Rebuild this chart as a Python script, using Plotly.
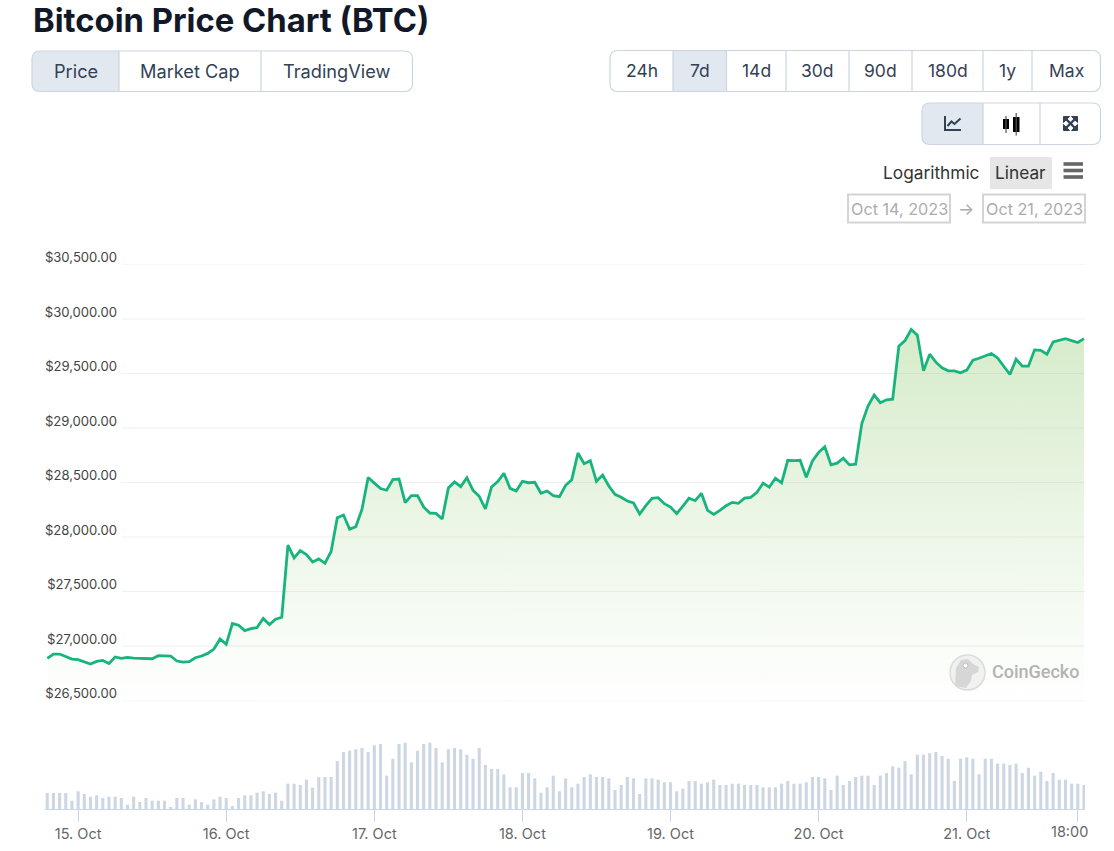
import pandas as pd
import plotly.graph_objects as go

W, H = 1114, 851
FONT = "Inter"

# hourly BTC price
prices = [
    26886, 26926, 26926, 26902, 26880, 26874, 26856, 26834, 26859, 26868, 26840, 26899, 26886, 26896, 26889,
    26889, 26886, 26883, 26911, 26908, 26908, 26862, 26852, 26856, 26892, 26908, 26932, 26972, 27065, 27015,
    27206, 27191, 27141, 27160, 27169, 27252, 27197, 27246, 27264, 27925, 27808, 27876, 27839, 27771, 27799,
    27759, 27867, 28177, 28202, 28072, 28094, 28254, 28546, 28494, 28444, 28429, 28527, 28532, 28315, 28379,
    28379, 28275, 28220, 28217, 28165, 28450, 28505, 28462, 28544, 28428, 28373, 28257, 28459, 28508, 28584,
    28446, 28422, 28511, 28498, 28502, 28401, 28422, 28379, 28370, 28474, 28526, 28771, 28673, 28700, 28511,
    28569, 28468, 28391, 28364, 28330, 28312, 28211, 28287, 28355, 28361, 28306, 28275, 28214, 28284, 28355,
    28333, 28401, 28245, 28208, 28245, 28287, 28318, 28309, 28357, 28363, 28409, 28494, 28457, 28540, 28497,
    28704, 28701, 28704, 28549, 28698, 28777, 28829, 28662, 28677, 28723, 28662, 28668, 29040, 29201, 29302,
    29232, 29259, 29265, 29750, 29802, 29903, 29851, 29524, 29677, 29604, 29552, 29524, 29524, 29506, 29531,
    29622, 29640, 29662, 29683, 29643, 29567, 29491, 29631, 29567, 29567, 29717, 29713, 29677, 29790, 29802,
    29820, 29802, 29784, 29820,
]

# volume in relative units, the chart has no volume scale
volumes = [
    48, 48, 48, 48, 25, 53, 45, 37, 41, 33, 37, 37, 33, 13, 37, 21, 33, 25, 25, 25, 6, 33, 33, 13, 29, 21, 13, 29,
    37, 33, 9, 33, 41, 41, 49, 53, 45, 49, 25, 76, 76, 72, 88, 64, 96, 96, 96, 144, 171, 175, 179, 183, 171, 191,
    195, 100, 151, 195, 199, 140, 175, 195, 199, 183, 140, 179, 183, 179, 163, 151, 183, 132, 120, 120, 104, 65,
    65, 108, 108, 92, 49, 65, 100, 53, 92, 65, 76, 96, 104, 96, 96, 92, 57, 72, 96, 92, 45, 92, 92, 88, 80, 80,
    53, 61, 84, 84, 76, 80, 88, 72, 72, 76, 76, 72, 72, 72, 65, 65, 65, 76, 84, 76, 76, 80, 96, 96, 92, 57, 100,
    72, 84, 96, 100, 100, 72, 100, 108, 128, 124, 144, 104, 163, 163, 167, 171, 159, 151, 84, 151, 155, 151, 104,
    151, 151, 136, 136, 132, 136, 108, 124, 100, 112, 84, 108, 88, 88, 76, 76, 72,
]

price_ticks = [26500, 27000, 27500, 28000, 28500, 29000, 29500, 30000, 30500]
date_ticks = ["2023-10-15", "2023-10-16", "2023-10-17", "2023-10-18", "2023-10-19", "2023-10-20", "2023-10-21",
              "2023-10-21 18:00"]
date_labels = ["15. Oct", "16. Oct", "17. Oct", "18. Oct", "19. Oct", "20. Oct", "21. Oct", ""]

tabs = ["Price", "Market Cap", "TradingView"]
ranges = ["24h", "7d", "14d", "30d", "90d", "180d", "1y", "Max"]

times = pd.date_range("2023-10-14 19:00", periods=len(prices), freq="h")


def px(x):
    return x / W


def py(y):
    return 1 - y / H


def rounded(x0, y0, x1, y1, left=0, right=0):
    # rounded box in page pixels, as a paper-coordinate svg path
    pts = [
        f"M {px(x0 + left)},{py(y0)}", f"L {px(x1 - right)},{py(y0)}",
        f"Q {px(x1)},{py(y0)} {px(x1)},{py(y0 + right)}", f"L {px(x1)},{py(y1 - right)}",
        f"Q {px(x1)},{py(y1)} {px(x1 - right)},{py(y1)}", f"L {px(x0 + left)},{py(y1)}",
        f"Q {px(x0)},{py(y1)} {px(x0)},{py(y1 - left)}", f"L {px(x0)},{py(y0 + left)}",
        f"Q {px(x0)},{py(y0)} {px(x0 + left)},{py(y0)}", "Z",
    ]
    return " ".join(pts)


def poly(points, close=False):
    d = " ".join(("M" if i == 0 else "L") + f" {px(x)},{py(y)}" for i, (x, y) in enumerate(points))
    return d + (" Z" if close else "")


shapes = []
annotations = []


def add_path(path, fill="rgba(0,0,0,0)", line="rgba(0,0,0,0)", width=1):
    shapes.append(dict(type="path", xref="paper", yref="paper", path=path, fillcolor=fill,
                       line=dict(color=line, width=width), layer="above"))


def add_rect(x0, y0, x1, y1, fill="rgba(0,0,0,0)", line="rgba(0,0,0,0)", width=1):
    shapes.append(dict(type="rect", xref="paper", yref="paper", x0=px(x0), x1=px(x1), y0=py(y0), y1=py(y1),
                       fillcolor=fill, line=dict(color=line, width=width), layer="above"))


def add_text(text, x, y, size=18, color="#334155", anchor="center", weight=400, family=FONT):
    annotations.append(dict(text=text, xref="paper", yref="paper", x=px(x), y=py(y), xanchor=anchor,
                            yanchor="middle", showarrow=False,
                            font=dict(family=family, size=size, color=color, weight=weight)))


def button_group(x0, y0, x1, y1, dividers, selected):
    edges = [x0] + dividers + [x1]
    a, b = edges[selected], edges[selected + 1]
    add_path(rounded(a, y0, b, y1, left=8 if selected == 0 else 0), fill="#e2e8f0")
    add_path(rounded(x0, y0, x1, y1, left=8, right=8), line="#cbd5e1", width=1.2)
    for d in dividers:
        add_path(poly([(d, y0), (d, y1)]), line="#cbd5e1", width=1.2)
    return edges


# page header
add_text("Bitcoin Price Chart (BTC)", 31, 20, size=32.8, color="#111827", anchor="left", weight=700)

edges = button_group(32, 51, 412.5, 91.5, [119, 261], 0)
for i, tab in enumerate(tabs):
    add_text(tab, (edges[i] + edges[i + 1]) / 2, 71, size=18.2)

edges = button_group(610, 50.5, 1100.5, 91.5, [673, 726.5, 786, 849, 912, 983, 1032], 1)
for i, r in enumerate(ranges):
    add_text(r, (edges[i] + edges[i + 1]) / 2, 71, size=17.5)

# chart type buttons and their icons
button_group(922, 103, 1100.5, 144.5, [983, 1040], 0)
add_path(poly([(945, 116), (945, 130), (961, 130)]), line="#334155", width=2)
add_path(poly([(947.5, 126), (951.5, 121.5), (954.5, 124), (960.5, 118.5)]), line="#334155", width=2)
add_rect(1003, 119, 1009, 129, fill="#000")
add_rect(1013, 117, 1019.5, 132, fill="#000")
add_path(poly([(1006, 116), (1006, 133)]), line="#555555", width=1.2)
add_path(poly([(1016.2, 113), (1016.2, 135.5)]), line="#555555", width=1.2)
for a, b, c, d in [(1065, 118, 1076, 129), (1076, 118, 1065, 129)]:
    add_path(poly([(a, b), (c, d)]), line="#334155", width=2.4)
for cx, cy, sx, sy in [(1063.5, 116.5, 1, 1), (1077.5, 116.5, -1, 1), (1063.5, 130.5, 1, -1), (1077.5, 130.5, -1, -1)]:
    add_path(poly([(cx, cy), (cx + 6 * sx, cy), (cx, cy + 6 * sy)], close=True), fill="#334155", line="#334155",
             width=1)

# scale switch and menu
add_text("Logarithmic", 931.5, 173, size=17.3, color="#333333")
add_rect(990, 157, 1052, 189, fill="#e6e6e6")
add_text("Linear", 1020.5, 173, size=17.3, color="#333333")
for y in [164, 170.5, 177]:
    add_path(poly([(1063.5, y), (1083, y)]), line="#666666", width=3.6)

# date range inputs
add_rect(848, 194.5, 950, 222.5, line="#d4d4d4", width=2)
add_rect(983, 194.5, 1085, 222.5, line="#d4d4d4", width=2)
add_text("Oct 14, 2023", 899, 209, size=16.2, color="#acacac")
add_text("Oct 21, 2023", 1034, 209, size=16.2, color="#acacac")
add_text("→", 966, 209, size=17, color="#acacac")

# watermark
shapes.append(dict(type="circle", xref="paper", yref="paper", x0=px(950), x1=px(985), y0=py(690), y1=py(655),
                   fillcolor="#f1f1f1", line=dict(color="#dcdcdc", width=1.5), layer="above"))
add_path(poly([(955, 686), (956, 668), (961, 660), (968, 659), (973, 664), (979, 667), (978, 672), (972, 675),
               (971, 681), (966, 688)], close=True), fill="#d6d6d6")
shapes.append(dict(type="circle", xref="paper", yref="paper", x0=px(963), x1=px(968), y0=py(668), y1=py(663),
                   fillcolor="#ffffff", line=dict(color="#bdbdbd", width=1), layer="above"))
add_text("CoinGecko", 990, 671, size=18, color="#b3b3b3", anchor="left", weight=500, family="Roboto")

# last tick label sits left of its tick, like the chart's overflow handling
annotations.append(dict(text="18:00", x=date_ticks[-1], xref="x", y=0, yref="y2", yanchor="top", xanchor="center",
                        yshift=-12, xshift=-8, showarrow=False, font=dict(family=FONT, size=14.5, color="#666666")))

# gridlines stop short of the labels
for tick in price_ticks:
    shapes.append(dict(type="line", xref="paper", yref="y", x0=px(122), x1=px(1085), y0=tick, y1=tick,
                       line=dict(color="#eef0f2", width=1), layer="below"))

fig = go.Figure()
fig.add_trace(go.Scatter(
    x=times, y=prices, mode="lines", yaxis="y", line=dict(color="#18b47e", width=2.8),
    fill="tozeroy",
    fillgradient=dict(type="vertical", start=29900, stop=26500,
                      colorscale=[[0, "rgba(120,190,80,0.30)"], [1, "rgba(120,190,80,0)"]]),
    showlegend=False,
))
fig.add_trace(go.Bar(x=times, y=volumes, yaxis="y2", marker=dict(color="#cdd6e3", line_width=0), showlegend=False))

fig.update_layout(
    width=W, height=H, margin=dict(l=0, r=0, t=0, b=0, autoexpand=False),
    paper_bgcolor="white", plot_bgcolor="rgba(0,0,0,0)",
    bargap=0.5, shapes=shapes, annotations=annotations,
    font=dict(family=FONT),
    xaxis=dict(
        domain=[px(45), px(1085)], anchor="y2", type="date", automargin=False,
        range=["2023-10-14 18:38", "2023-10-21 19:10"],
        tickvals=date_ticks, ticktext=date_labels, tickfont=dict(size=14.5, color="#666666"),
        ticks="outside", ticklen=12, tickcolor="#ccd6eb", tickwidth=1,
        showline=True, linecolor="#ccd6eb", linewidth=1, showgrid=False, zeroline=False,
    ),
    yaxis=dict(
        domain=[py(700.5), py(264.5)], range=[26500, 30500], anchor="free", position=px(117),
        automargin=False, tickvals=price_ticks, tickformat="$,.2f",
        ticklabelshift=-7, tickfont=dict(size=13.1, color="#444444"),
        showgrid=False, zeroline=False, showline=False, ticks="",
    ),
    yaxis2=dict(
        domain=[py(809), py(740)], range=[0, 207], anchor="x", automargin=False,
        visible=False,
    ),
)

fig.write_html("out.html", config=dict(displayModeBar=False),
               post_script="document.body.style.margin='0';document.body.style.overflow='hidden';")
